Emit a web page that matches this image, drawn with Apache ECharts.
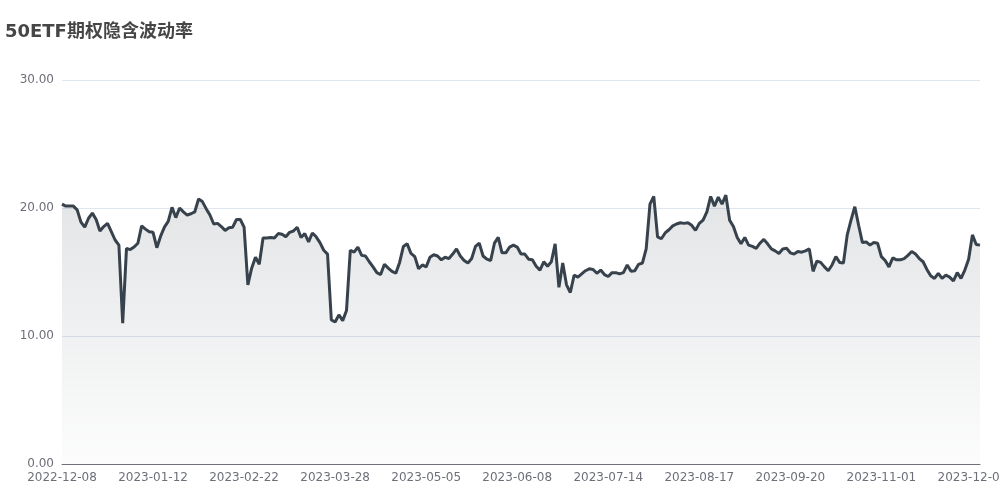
<!DOCTYPE html>
<html>
<head>
<meta charset="utf-8">
<script src="https://cdn.jsdelivr.net/npm/echarts@6/dist/echarts.min.js"></script>
<style>html,body{margin:0;padding:0;background:#fff;}#c{width:1000px;height:500px;}</style>
</head>
<body>
<div id="c"></div>
<script>
var titleText = '50ETF期权隐含波动率';
// trading days per month
var tradingDays = [
  ['2022-12', ['08','09','12','13','14','15','16','19','20','21','22','23','26','27','28','29','30']],
  ['2023-01', ['03','04','05','06','09','10','11','12','13','16','17','18','19','20','30','31']],
  ['2023-02', ['01','02','03','06','07','08','09','10','13','14','15','16','17','20','21','22','23','24','27','28']],
  ['2023-03', ['01','02','03','06','07','08','09','10','13','14','15','16','17','20','21','22','23','24','27','28','29','30','31']],
  ['2023-04', ['03','04','06','07','10','11','12','13','14','17','18','19','20','21','24','25','26','27','28']],
  ['2023-05', ['04','05','08','09','10','11','12','15','16','17','18','19','22','23','24','25','26','29','30','31']],
  ['2023-06', ['01','02','05','06','07','08','09','12','13','14','15','16','19','20','21','26','27','28','29','30']],
  ['2023-07', ['03','04','05','06','07','10','11','12','13','14','17','18','19','20','21','24','25','26','27','28','31']],
  ['2023-08', ['01','02','03','04','07','08','09','10','11','14','15','16','17','18','21','22','23','24','25','28','29','30','31']],
  ['2023-09', ['01','04','05','06','07','08','11','12','13','14','15','18','19','20','21','22','25','26','27','28']],
  ['2023-10', ['09','10','11','12','13','16','17','18','19','20','23','24','25','26','27','30','31']],
  ['2023-11', ['01','02','03','06','07','08','09','10','13','14','15','16','17','20','21','22','23','24','27','28','29','30']],
  ['2023-12', ['01','04','05','06','07']]
];
var ivValues = [
  20.3,20.15,20.15,20.15,19.85,18.9,18.5,19.2,19.6,19.1,
  18.2,18.55,18.8,18.15,17.5,17.1,11.0,16.85,16.75,16.95,
  17.25,18.6,18.35,18.15,18.1,16.9,17.8,18.5,18.95,20.05,
  19.25,20.0,19.7,19.45,19.55,19.7,20.7,20.5,19.95,19.45,
  18.75,18.8,18.55,18.25,18.45,18.5,19.1,19.1,18.5,14.0,
  15.3,16.15,15.6,17.65,17.65,17.7,17.65,18.0,17.95,17.75,
  18.1,18.2,18.5,17.7,18.0,17.35,18.05,17.75,17.3,16.7,
  16.4,11.25,11.1,11.65,11.2,12.0,16.7,16.55,16.95,16.3,
  16.25,15.8,15.4,14.95,14.8,15.6,15.3,15.05,14.9,15.75,
  17.0,17.2,16.45,16.2,15.25,15.55,15.4,16.15,16.35,16.25,
  15.95,16.15,16.05,16.4,16.8,16.25,15.9,15.7,16.05,17.0,
  17.25,16.25,16.0,15.9,17.25,17.7,16.5,16.5,16.95,17.1,
  16.95,16.4,16.4,16.0,15.95,15.45,15.15,15.8,15.45,15.8,
  17.2,13.8,15.7,14.0,13.4,14.75,14.6,14.85,15.1,15.25,
  15.2,14.9,15.15,14.8,14.65,14.95,14.95,14.85,14.95,15.55,
  15.05,15.1,15.6,15.7,16.8,20.3,20.9,17.75,17.6,18.05,
  18.3,18.6,18.75,18.85,18.8,18.85,18.65,18.25,18.8,19.05,
  19.7,20.9,20.15,20.85,20.3,21.0,19.05,18.55,17.7,17.2,
  17.7,17.1,17.0,16.85,17.25,17.55,17.2,16.8,16.65,16.45,
  16.8,16.85,16.5,16.4,16.6,16.55,16.65,16.8,15.05,15.85,
  15.75,15.4,15.1,15.55,16.2,15.75,15.7,17.9,19.05,20.1,
  18.65,17.3,17.35,17.1,17.3,17.25,16.2,15.9,15.4,16.1,
  15.95,15.95,16.05,16.3,16.6,16.4,16.05,15.8,15.2,14.7,
  14.5,14.9,14.5,14.75,14.6,14.3,14.95,14.5,15.15,16.0,
  17.9,17.15,17.1
];
var yTicks = { min: 0, max: 30, interval: 10 };

var dates = [];
tradingDays.forEach(function (m) { m[1].forEach(function (d) { dates.push(m[0] + '-' + d); }); });

var FONT = '"DejaVu Sans", "Noto Sans CJK SC", sans-serif';
var chart = echarts.init(document.getElementById('c'), null, { renderer: 'canvas' });
chart.setOption({
  animation: false,
  textStyle: { fontFamily: FONT },
  title: {
    text: titleText, left: 0, top: 18,
    textStyle: { fontSize: 18, fontWeight: 'bold', color: '#464646', fontFamily: FONT }
  },
  grid: { left: 62, right: 20, top: 80, bottom: 36, containLabel: false, outerBoundsMode: 'none' },
  xAxis: {
    type: 'category', data: dates, boundaryGap: false,
    axisLine: { lineStyle: { color: '#6e7079' } },
    axisTick: { show: false },
    axisLabel: { interval: 23, color: '#6e7079', fontSize: 12, margin: 8, fontFamily: FONT, hideOverlap: false }
  },
  yAxis: {
    type: 'value', min: yTicks.min, max: yTicks.max, interval: yTicks.interval,
    axisLabel: { color: '#6e7079', fontSize: 12, margin: 8, fontFamily: FONT, formatter: function (v) { return v.toFixed(2); } },
    splitLine: { lineStyle: { color: '#e0e6f1' } }
  },
  series: [{
    type: 'line', data: ivValues, showSymbol: false, symbol: 'none',
    lineStyle: { color: '#37424d', width: 3 },
    itemStyle: { color: '#37424d' },
    areaStyle: {
      color: new echarts.graphic.LinearGradient(0, 0, 0, 1, [
        { offset: 0, color: 'rgba(55,66,77,0.2)' },
        { offset: 1, color: 'rgba(55,66,77,0.02)' }
      ])
    }
  }]
});
</script>
</body>
</html>
